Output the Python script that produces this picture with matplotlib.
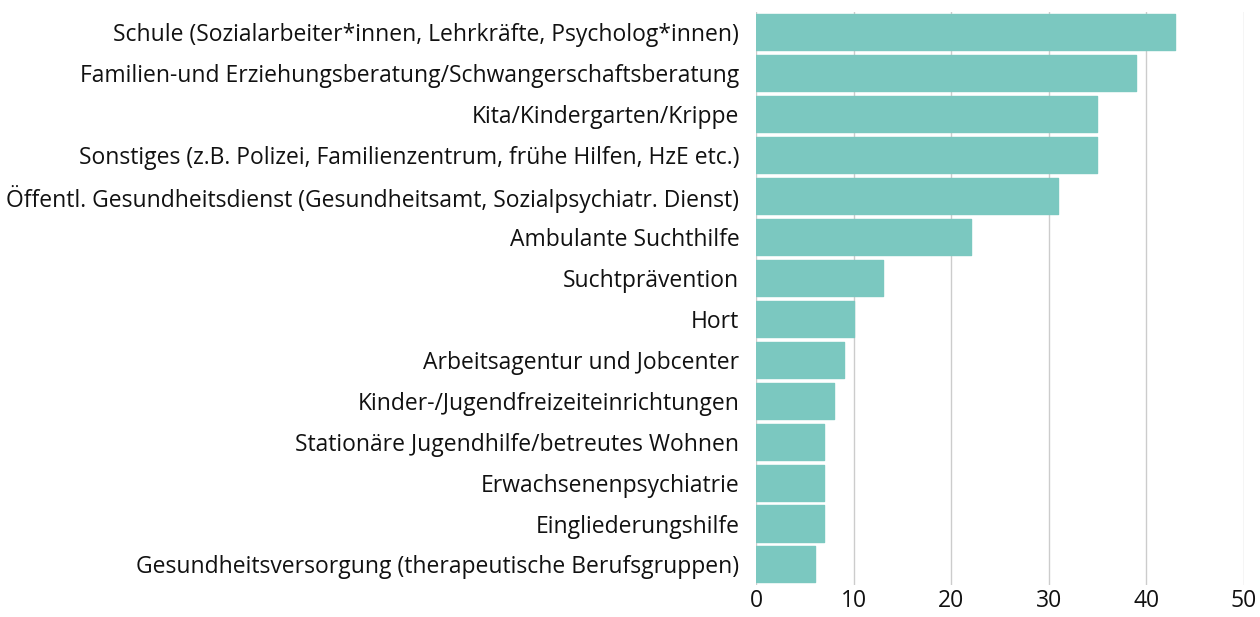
import matplotlib
matplotlib.use("Agg")
import matplotlib.pyplot as plt

categories = [
    "Schule (Sozialarbeiter*innen, Lehrkräfte, Psycholog*innen)",
    "Familien-und Erziehungsberatung/Schwangerschaftsberatung",
    "Kita/Kindergarten/Krippe",
    "Sonstiges (z.B. Polizei, Familienzentrum, frühe Hilfen, HzE etc.)",
    "Öffentl. Gesundheitsdienst (Gesundheitsamt, Sozialpsychiatr. Dienst)",
    "Ambulante Suchthilfe",
    "Suchtprävention",
    "Hort",
    "Arbeitsagentur und Jobcenter",
    "Kinder-/Jugendfreizeiteinrichtungen",
    "Stationäre Jugendhilfe/betreutes Wohnen",
    "Erwachsenenpsychiatrie",
    "Eingliederungshilfe",
    "Gesundheitsversorgung (therapeutische Berufsgruppen)",
]
values = [43, 39, 35, 35, 31, 22, 13, 10, 9, 8, 7, 7, 7, 6]
xticks = [0, 10, 20, 30, 40, 50]

plt.rcParams['font.family'] = ['Open Sans', 'DejaVu Sans']

fig = plt.figure(figsize=(12.6, 6.17), dpi=100)
ax = fig.add_axes([0.6, 0.052, 0.387, 0.929])

y = list(range(len(categories)))
ax.barh(y, values, height=0.88, color="#7BC8C0", edgecolor="#7BC8C0",
        linewidth=1.0, joinstyle="round", zorder=3)
ax.set_ylim(len(categories) - 0.5, -0.5)
ax.set_xlim(0, 50)
ax.set_yticks(y)
ax.set_yticklabels(categories, fontsize=16.5, color="#111111")
ax.set_xticks(xticks)
ax.set_xticklabels([str(t) for t in xticks], fontsize=16.5, color="#111111")
ax.tick_params(axis="both", length=0)
ax.tick_params(axis="y", pad=12)
ax.tick_params(axis="x", pad=3)
ax.grid(axis="x", color="#cccccc", linewidth=1.0, zorder=0)
for s in ax.spines.values():
    s.set_visible(False)

fig.savefig("out.png", dpi=100)
